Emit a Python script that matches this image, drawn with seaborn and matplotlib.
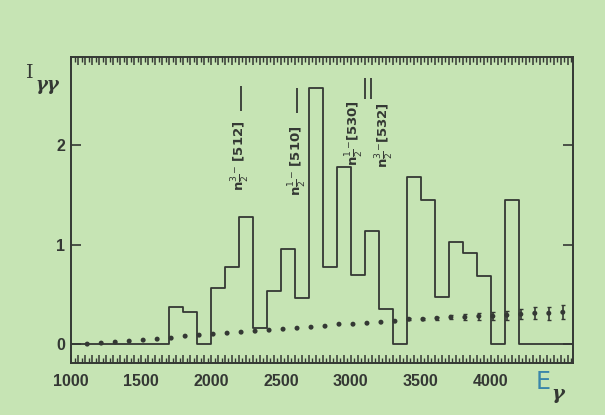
import numpy as np
import pandas as pd
import matplotlib
matplotlib.use("Agg")
import matplotlib.pyplot as plt
from matplotlib.ticker import MultipleLocator, FuncFormatter
import seaborn as sns

# Coincidence intensity histogram (100 keV bins above 1700 keV)
bin_edges = [1000, 1700, 1800, 1900, 2000, 2100, 2200, 2300, 2400, 2500,
             2600, 2700, 2800, 2900, 3000, 3100, 3200, 3300, 3400, 3500,
             3600, 3700, 3800, 3900, 4000, 4100, 4200, 4600]
bin_heights = [0.0, 0.37, 0.32, 0.0, 0.56, 0.77, 1.28, 0.16, 0.53, 0.96,
               0.46, 2.57, 0.77, 1.78, 0.69, 1.14, 0.35, 0.0, 1.68, 1.45,
               0.47, 1.03, 0.92, 0.68, 0.0, 1.45, 0.0]

# Smooth background estimate with its uncertainty
bg_energy = [1115, 1215, 1315, 1415, 1515, 1615, 1715, 1815, 1915, 2015,
             2115, 2215, 2315, 2415, 2515, 2615, 2715, 2815, 2915, 3015,
             3115, 3215, 3315, 3415, 3515, 3615, 3715, 3815, 3915, 4015,
             4115, 4215, 4315, 4415, 4515]
bg_level = [0.00, 0.01, 0.02, 0.03, 0.04, 0.05, 0.06, 0.08, 0.09, 0.10,
            0.11, 0.12, 0.13, 0.14, 0.15, 0.16, 0.17, 0.18, 0.20, 0.20,
            0.21, 0.22, 0.23, 0.25, 0.25, 0.26, 0.27, 0.27, 0.28, 0.28,
            0.29, 0.30, 0.31, 0.31, 0.32]
bg_error = [0.0, 0.0, 0.0, 0.0, 0.0, 0.0, 0.0, 0.0, 0.0, 0.0,
            0.0, 0.0, 0.0, 0.0, 0.0, 0.0, 0.0, 0.0, 0.0, 0.0,
            0.0, 0.0, 0.0, 0.01, 0.012, 0.015, 0.02, 0.03, 0.035, 0.04,
            0.045, 0.05, 0.06, 0.065, 0.07]

# Predicted Nilsson-orbital energies
orbit_labels = [r"n${\frac{3}{2}}^{-}$ [512]", r"n${\frac{1}{2}}^{-}$ [510]",
                r"n${\frac{1}{2}}^{-}$[530]", r"n${\frac{3}{2}}^{-}$[532]"]
orbit_label_x = [2212, 2625, 3031, 3245]
orbit_label_y = [1.89, 1.84, 2.12, 2.10]
orbit_energy = [2212, 2618, 3103, 3146]
orbit_line_lo = [2.34, 2.32, 2.46, 2.46]
orbit_line_hi = [2.59, 2.57, 2.67, 2.67]

x_tick_labels = [1000, 1500, 2000, 2500, 3000, 3500, 4000]

ink = "#343834"
paper = "#c6e4b4"

sns.set_style("ticks", rc={"axes.facecolor": paper, "figure.facecolor": paper,
                           "axes.edgecolor": ink, "xtick.color": ink,
                           "ytick.color": ink, "text.color": ink})
plt.rcParams["font.family"] = ["DejaVu Sans"]
plt.rcParams["mathtext.fontset"] = "dejavusans"

fig = plt.figure(figsize=(6.05, 4.15), dpi=100)
ax = fig.add_axes([71 / 605, 1 - 363 / 415, 502 / 605, 306 / 415])

edges = np.array(bin_edges, dtype=float)
centers = (edges[:-1] + edges[1:]) / 2
hist_df = pd.DataFrame({"energy": centers, "intensity": bin_heights})
sns.histplot(data=hist_df, x="energy", weights="intensity", bins=bin_edges,
             element="step", fill=False, color=ink, linewidth=1.3, ax=ax)

bg_df = pd.DataFrame({"energy": bg_energy, "level": bg_level})
sns.scatterplot(data=bg_df, x="energy", y="level", color=ink, s=13,
                edgecolor="none", ax=ax, zorder=3)
err = np.array(bg_error)
has_err = err > 0
ax.errorbar(np.array(bg_energy)[has_err], np.array(bg_level)[has_err],
            yerr=err[has_err], fmt="none", ecolor=ink, elinewidth=1.2,
            capsize=1.5, capthick=1.0)

for txt, xl, yl in zip(orbit_labels, orbit_label_x, orbit_label_y):
    ax.text(xl, yl, txt, rotation=90, ha="center", va="center",
            fontsize=9.5, fontweight="bold", color=ink)
ax.vlines(orbit_energy, orbit_line_lo, orbit_line_hi, color=ink, linewidth=1.3)

ax.set_xlim(999, 4588)
ax.set_ylim(-0.19, 2.885)
ax.set_xlabel("")
ax.set_ylabel("")

ax.xaxis.set_major_locator(MultipleLocator(50))
ax.xaxis.set_minor_locator(MultipleLocator(25))
ax.xaxis.set_major_formatter(FuncFormatter(
    lambda v, p: f"{int(round(v))}" if int(round(v)) in x_tick_labels else ""))
ax.set_yticks([0, 1, 2])
ax.tick_params(axis="x", which="major", direction="in", length=6, width=1.1,
               top=True, bottom=True, pad=8)
ax.tick_params(axis="x", which="minor", direction="in", length=3.5, width=1.0,
               top=True, bottom=True)
ax.tick_params(axis="y", which="major", direction="in", length=7, width=1.2,
               left=True, right=True, pad=4)
for lab in ax.get_xticklabels() + ax.get_yticklabels():
    lab.set_family(["Liberation Sans", "DejaVu Sans"])
    lab.set_fontweight("bold")
    lab.set_fontsize(11.5)
for sp in ax.spines.values():
    sp.set_visible(True)
    sp.set_linewidth(1.4)
    sp.set_color(ink)

# Axis titles
fig.text(30 / 605, 1 - 73 / 415, "I", family="DejaVu Serif", fontsize=14,
         ha="center", va="center", color=ink)
fig.text(47 / 605, 1 - 85 / 415, "\u03b3\u03b3", family="DejaVu Serif",
         style="italic", fontweight="bold", fontsize=13, ha="center",
         va="center", color=ink)
fig.text(543 / 605, 1 - 382 / 415, "E", fontsize=17, ha="center",
         va="center", color="#3a86aa")
fig.text(558 / 605, 1 - 394 / 415, "\u03b3", family="DejaVu Serif",
         style="italic", fontweight="bold", fontsize=14, ha="center",
         va="center", color=ink)

fig.savefig("out.png", dpi=100, facecolor=paper)
